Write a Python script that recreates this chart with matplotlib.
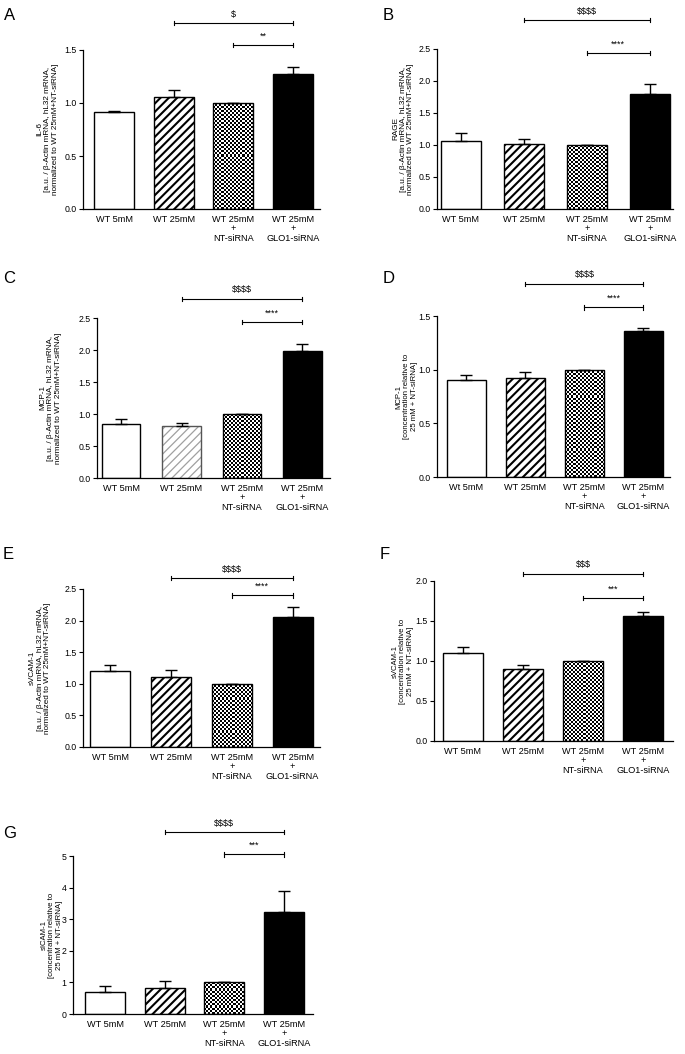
import matplotlib
matplotlib.use("Agg")
import matplotlib.pyplot as plt
import numpy as np

plt.rcParams['font.family'] = ['Liberation Sans', 'DejaVu Sans']
plt.rcParams['hatch.linewidth'] = 1.5

# ---- data ----
groups = ["WT 5mM", "WT 25mM", "WT 25mM\n+\nNT-siRNA", "WT 25mM\n+\nGLO1-siRNA"]
groups_d = ["Wt 5mM", "WT 25mM", "WT 25mM\n+\nNT-siRNA", "WT 25mM\n+\nGLO1-siRNA"]

letters = ["A", "B", "C", "D", "E", "F", "G"]
ylabels = [
    "IL-6\n[a.u. / β-Actin mRNA, hL32 mRNA,\nnormalized to WT 25mM+NT-siRNA]",
    "RAGE\n[a.u. / β-Actin mRNA, hL32 mRNA,\nnormalized to WT 25mM+NT-siRNA]",
    "MCP-1\n[a.u. / β-Actin mRNA, hL32 mRNA,\nnormalized to WT 25mM+NT-siRNA]",
    "MCP-1\n[concentration relative to\n25 mM + NT-siRNA]",
    "sVCAM-1\n[a.u. / β-Actin mRNA, hL32 mRNA,\nnormalized to WT 25mM+NT-siRNA]",
    "sVCAM-1\n[concentration relative to\n25 mM + NT-siRNA]",
    "sICAM-1\n[concentration relative to\n25 mM + NT-siRNA]",
]
il6 = [0.913, 1.06, 1.0, 1.275]
il6_err = [0.007, 0.06, 0.0, 0.06]
rage = [1.06, 1.02, 1.0, 1.80]
rage_err = [0.12, 0.08, 0.0, 0.16]
mcp1_mrna = [0.85, 0.81, 1.0, 1.99]
mcp1_mrna_err = [0.075, 0.055, 0.0, 0.10]
mcp1_conc = [0.90, 0.925, 1.0, 1.363]
mcp1_conc_err = [0.047, 0.053, 0.0, 0.028]
svcam_mrna = [1.21, 1.10, 1.0, 2.05]
svcam_mrna_err = [0.085, 0.12, 0.0, 0.16]
svcam_conc = [1.105, 0.905, 1.0, 1.56]
svcam_conc_err = [0.07, 0.04, 0.0, 0.05]
sicam_conc = [0.69, 0.82, 1.0, 3.23]
sicam_conc_err = [0.19, 0.21, 0.0, 0.65]

values = [il6, rage, mcp1_mrna, mcp1_conc, svcam_mrna, svcam_conc, sicam_conc]
errors = [il6_err, rage_err, mcp1_mrna_err, mcp1_conc_err, svcam_mrna_err,
          svcam_conc_err, sicam_conc_err]
ymax = [1.5, 2.5, 2.5, 1.5, 2.5, 2.0, 5]
ystep = [0.5, 0.5, 0.5, 0.5, 0.5, 0.5, 1]
# comparisons: WT 25mM vs GLO1 ($) and NT-siRNA vs GLO1 (*)
sig_dollar = ["$", "$$$$", "$$$$", "$$$$", "$$$$", "$$$", "$$$$"]
sig_dollar_y = [1.755, 2.95, 2.80, 1.80, 2.67, 2.09, 5.76]
sig_star = ["**", "****", "****", "****", "****", "***", "***"]
sig_star_y = [1.547, 2.44, 2.44, 1.58, 2.40, 1.79, 5.05]

# ---- layout (pixels in a 685 x 1054 figure) ----
W, H = 685, 1054
boxes = [(83, 320, 50, 209), (437, 673, 49, 209), (97, 330, 318, 478),
         (437, 670, 316, 477), (83, 320, 589, 747), (434, 673, 581, 741),
         (73, 313, 856, 1014)]
xlims = [(-0.52, 3.45), (-0.38, 3.37), (-0.40, 3.46), (-0.50, 3.45),
         (-0.45, 3.45), (-0.48, 3.50), (-0.54, 3.49)]
bar_w = [0.67, 0.63, 0.64, 0.67, 0.66, 0.67, 0.67]
label_x = [-0.15, -0.144, -0.20, -0.13, -0.18, -0.13, -0.09]
letter_pos = [(4, 8), (383, 8), (3, 271), (383, 271), (3, 547), (380, 547), (3, 826)]


def checker_fill(ax, patch, npx_w, npx_h):
    # fine black/white checkerboard inside a bar, 2 px squares
    nx = max(int(npx_w / 2), 1)
    ny = max(int(npx_h / 2), 1)
    board = (np.add.outer(np.arange(ny), np.arange(nx)) % 2).astype(float)
    x0 = patch.get_x()
    im = ax.imshow(board, cmap='gray', vmin=0, vmax=1, interpolation='nearest',
                   extent=(x0, x0 + patch.get_width(), 0, patch.get_height()),
                   aspect='auto', zorder=2)
    im.set_clip_path(patch)


fig = plt.figure(figsize=(W / 100, H / 100), dpi=100)

for i in range(7):
    l, r, t, b = boxes[i]
    ax = fig.add_axes([l / W, 1 - b / H, (r - l) / W, (b - t) / H])
    x = np.arange(4)
    v = values[i]
    e = errors[i]
    w = bar_w[i]
    px_per_x = (r - l) / (xlims[i][1] - xlims[i][0])
    px_per_y = (b - t) / ymax[i]

    ax.bar(x[0], v[0], w, color='white', edgecolor='black', lw=1.0, zorder=2)
    if i == 2:
        # light grey stripes in panel C
        hb = ax.bar(x[1], v[1], w, color='white', edgecolor='#a0a0a0', hatch='////', lw=0, zorder=2)
        if hasattr(hb[0], 'set_hatch_linewidth'):
            hb[0].set_hatch_linewidth(0.9)
        ax.bar(x[1], v[1], w, fill=False, edgecolor='#555555', lw=1.0, zorder=3)
    else:
        ax.bar(x[1], v[1], w, color='white', edgecolor='black', hatch='////', lw=1.0, zorder=2)
    cb = ax.bar(x[2], v[2], w, color='white', lw=0, zorder=1)
    checker_fill(ax, cb[0], w * px_per_x, v[2] * px_per_y)
    ax.bar(x[2], v[2], w, fill=False, edgecolor='black', lw=1.0, zorder=3)
    ax.bar(x[3], v[3], w, color='black', edgecolor='black', lw=1.0, zorder=2)

    ax.errorbar(x, v, yerr=[np.zeros(4), e], fmt='none', ecolor='black',
                elinewidth=1.0, capsize=4.5, capthick=1.0, zorder=4, clip_on=False)

    ax.set_xlim(*xlims[i])
    ax.set_ylim(0, ymax[i])
    ticks = np.arange(0, ymax[i] + 1e-9, ystep[i])
    ax.set_yticks(ticks)
    if ystep[i] >= 1:
        ax.set_yticklabels([f"{t:.0f}" for t in ticks])
    else:
        ax.set_yticklabels([f"{t:.1f}" for t in ticks])
    ax.set_xticks(x)
    ax.set_xticklabels(groups_d if i == 3 else groups, fontsize=6.6, linespacing=1.1)
    ax.tick_params(axis='x', length=0, pad=4)
    ax.tick_params(axis='y', length=3, width=0.8, pad=1.5, labelsize=6.3)
    for s in ['top', 'right']:
        ax.spines[s].set_visible(False)
    for s in ['left', 'bottom']:
        ax.spines[s].set_linewidth(0.9)

    fs = 5.6 if i in (3, 5, 6) else 5.9
    ax.set_ylabel(ylabels[i], fontsize=fs, linespacing=1.12)
    ax.yaxis.set_label_coords(label_x[i], 0.5)
    ax.yaxis.label.set_va('center')

    # significance brackets
    d = 2.2 / px_per_y
    for lab, x1, yb in [(sig_dollar[i], 1, sig_dollar_y[i]), (sig_star[i], 2, sig_star_y[i])]:
        ax.plot([x1, 3], [yb, yb], color='black', lw=0.8, clip_on=False)
        ax.plot([x1, x1], [yb - d, yb + d], color='black', lw=0.8, clip_on=False)
        ax.plot([3, 3], [yb - d, yb + d], color='black', lw=0.8, clip_on=False)
        ax.text((x1 + 3) / 2, yb + 2 * d, lab, ha='center', va='bottom',
                fontsize=6.5, parse_math=False)

    lx, ly = letter_pos[i]
    fig.text(lx / W, 1 - ly / H, letters[i], fontsize=12, ha='left', va='top')

fig.savefig("out.png", dpi=100, facecolor='white')
